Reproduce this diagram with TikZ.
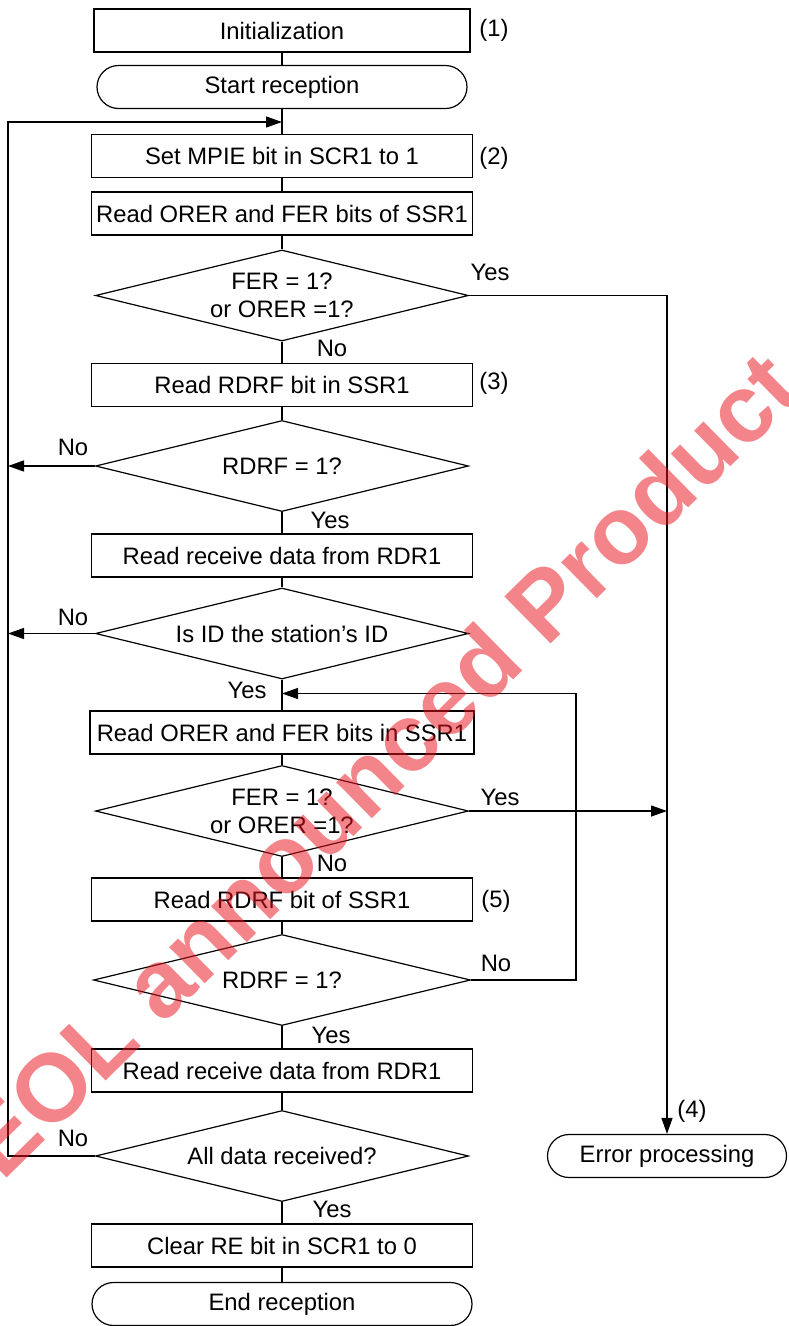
\documentclass[tikz,border=0pt]{standalone}
\usepackage{fontspec}
\setmainfont{Liberation Sans}
\usetikzlibrary{shapes.geometric,arrows.meta}
\definecolor{wmred}{RGB}{232,20,30}
\begin{document}
\begin{tikzpicture}[x=1pt,y=-1pt,line width=1.2pt,
  every node/.style={font=\fontsize{23.8}{28}\selectfont},
  box/.style={draw,rectangle,minimum width=381pt,minimum height=43pt,inner sep=0pt},
  term/.style={draw,rectangle,rounded corners=21.5pt,minimum height=43pt,inner sep=0pt},
  dia/.style={draw,diamond,aspect=4.1,minimum width=373pt,minimum height=91pt,inner sep=0pt,align=center},
  lbl/.style={inner sep=0pt},
  arr/.style={-{Triangle[length=16pt,width=11pt]}},
  wm/.style={font=\fontsize{96}{100}\selectfont\bfseries,text=wmred,opacity=0.52,inner sep=0pt}]
\useasboundingbox (0,0) rectangle (788,1326);
\coordinate (lft) at (8,0);
\coordinate (rgt) at (667,0);
\coordinate (lp) at (576,0);

\node[box,minimum width=376pt] (init) at (282,30.5) {Initialization};
\node[term,minimum width=370pt] (start) at (282,87) {Start reception};
\coordinate (top) at (282,122);
\node[box] (mpie) at (282,156) {Set MPIE bit in SCR1 to 1};
\node[box] (ro1) at (282,213.5) {Read ORER and FER bits of SSR1};
\node[dia] (d1) at (282,295.5) {FER = 1?\\or ORER =1?};
\node[box] (rd1) at (282,385) {Read RDRF bit in SSR1};
\node[dia] (d2) at (282,466) {RDRF = 1?};
\node[box] (rr1) at (282,555.5) {Read receive data from RDR1};
\node[dia] (d3) at (282,633.5) {Is ID the station’s ID};
\coordinate (mid) at (282,693.5);
\node[box,minimum width=384pt] (ro2) at (282,732.5) {Read ORER and FER bits in SSR1};
\node[dia] (d4) at (282,811) {FER = 1?\\or ORER =1?};
\node[box] (rd2) at (282,899.5) {Read RDRF bit of SSR1};
\node[dia,minimum width=377pt] (d5) at (282,980) {RDRF = 1?};
\node[box] (rr2) at (282,1070.5) {Read receive data from RDR1};
\node[dia] (d6) at (282,1156) {All data received?};
\node[box] (clr) at (282,1245.5) {Clear RE bit in SCR1 to 0};
\node[term,minimum width=380pt] (endr) at (282,1304) {End reception};
\node[term,minimum width=239pt] (err) at (667,1156) {Error processing};

% side labels
\node[lbl] (n1) at (494,30) {(1)};
\node[lbl] (n2) at (494,158) {(2)};
\node[lbl] (n3) at (494,383) {(3)};
\node[lbl] (n5) at (496,901) {(5)};
\node[lbl] (n4) at (692,1111) {(4)};

% branch labels
\node[lbl] (y1) at (490,272) {Yes};
\node[lbl] (no1) at (332,348) {No};
\node[lbl] (no2) at (73,447) {No};
\node[lbl] (y2) at (330,520) {Yes};
\node[lbl] (no3) at (73,617) {No};
\node[lbl] (y3) at (247,690) {Yes};
\node[lbl] (y4) at (500,797) {Yes};
\node[lbl] (no4) at (332,863) {No};
\node[lbl] (no5) at (496,963) {No};
\node[lbl] (y5) at (331,1035) {Yes};
\node[lbl] (no6) at (73,1138) {No};
\node[lbl] (y6) at (332,1209) {Yes};

% main column
\draw (init) -- (start);
\draw (start) -- (mpie);
\draw (mpie) -- (ro1);
\draw (ro1) -- (d1);
\draw (d1) -- (rd1);
\draw (rd1) -- (d2);
\draw (d2) -- (rr1);
\draw (rr1) -- (d3);
\draw (d3) -- (ro2);
\draw (ro2) -- (d4);
\draw (d4) -- (rd2);
\draw (rd2) -- (d5);
\draw (d5) -- (rr2);
\draw (rr2) -- (d6);
\draw (d6) -- (clr);
\draw (clr) -- (endr);

% branches
\draw[arr] (d1.east) -- (d1.east -| rgt) -- (err.north);
\draw[arr] (d4.east) -- (d4.east -| rgt);
\draw[arr] (d2.west) -- (d2.west -| lft);
\draw[arr] (d3.west) -- (d3.west -| lft);
\draw[arr] (d6.west) -- (d6.west -| lft) -- (top -| lft) -- (top);
\draw[arr] (d5.east) -- (d5.east -| lp) -- (mid -| lp) -- (mid);

% watermark
\node[wm,rotate=44.5,anchor=base west] (wmk) at (2,1183) {EOL announced Product};
\end{tikzpicture}
\end{document}
